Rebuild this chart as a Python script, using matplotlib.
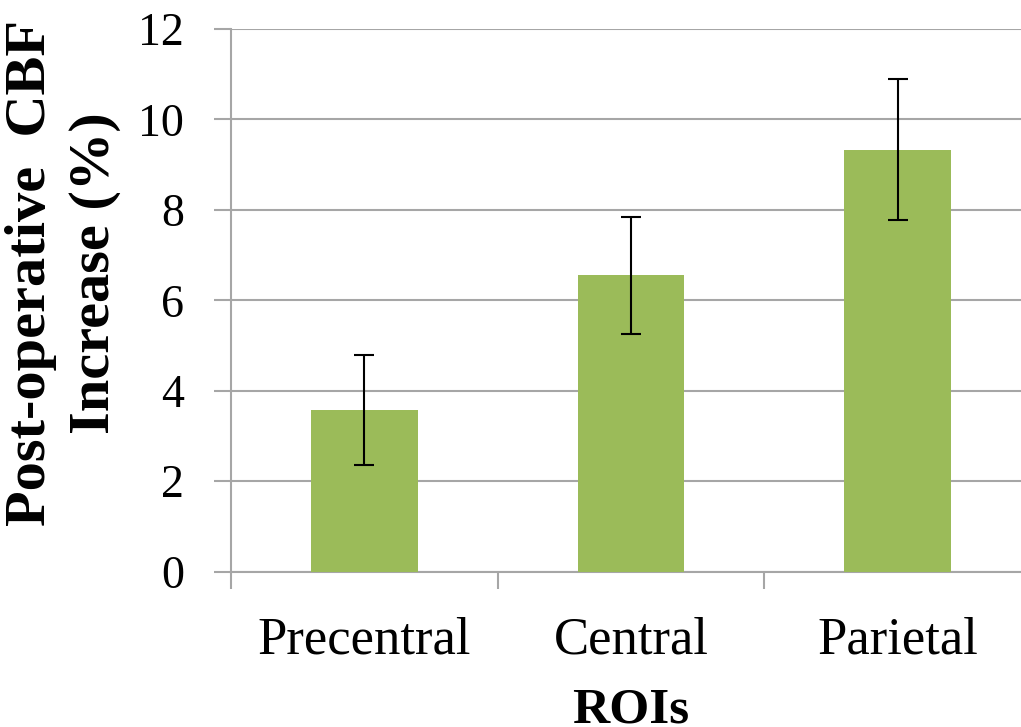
import matplotlib
matplotlib.use('Agg')
import matplotlib.pyplot as plt
import numpy as np

regions = ['Precentral', 'Central', 'Parietal']
increase = [3.58, 6.55, 9.33]
error = [1.22, 1.29, 1.55]

plt.rcParams['font.family'] = ['Liberation Serif', 'DejaVu Serif']

fig = plt.figure(figsize=(10.21, 7.27), dpi=100)
ax = fig.add_axes([0.2263, 0.2136, 0.7835, 0.7468])

x = np.arange(len(regions))
grid_color = '#a6a6a6'

ax.bar(x, increase, width=0.4, color='#9bbb59', zorder=3,
       yerr=error, capsize=7, error_kw=dict(ecolor='black', elinewidth=1.5, capthick=1.5))

ax.set_xlim(-0.5, len(regions) - 0.5)
ax.set_ylim(0, 12)
ax.set_yticks(range(0, 13, 2))
ax.yaxis.grid(True, color=grid_color, linewidth=1.5, zorder=0)

ax.set_xticks(x)
ax.set_xticklabels(regions, fontsize=38)
ax.set_xticks(np.arange(len(regions) + 1) - 0.5, minor=True)
ax.tick_params(axis='x', which='major', length=0, pad=32)
ax.tick_params(axis='x', which='minor', length=12, width=1.5, color=grid_color, direction='out')
ax.tick_params(axis='y', labelsize=33, length=12, width=1.5, color=grid_color, pad=22)

for side in ['top', 'right']:
    ax.spines[side].set_visible(False)
for side in ['left', 'bottom']:
    ax.spines[side].set_color(grid_color)
    ax.spines[side].set_linewidth(1.5)

ax.set_ylabel('Post-operative  CBF\nIncrease (%)', fontsize=42, fontweight='bold', linespacing=1.3)
ax.yaxis.set_label_coords(-0.21, 0.55)
ax.yaxis.label.set_va('center')
ax.set_xlabel('ROIs', fontsize=37, fontweight='bold')
ax.xaxis.set_label_coords(0.5, -0.255)
ax.xaxis.label.set_va('center')

fig.savefig('out.png', dpi=100)
